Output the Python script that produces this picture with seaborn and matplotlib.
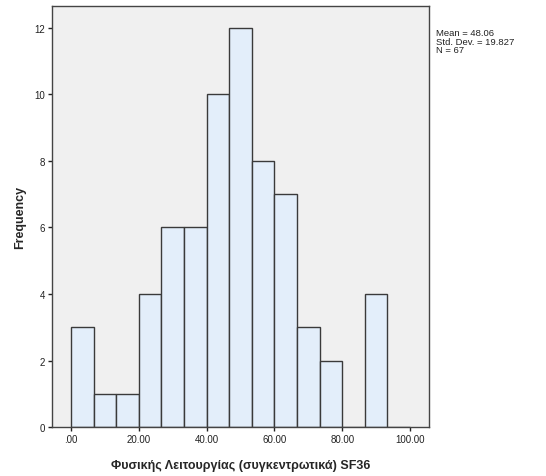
import numpy as np
import pandas as pd
import matplotlib
matplotlib.use('Agg')
import matplotlib.pyplot as plt
import seaborn as sns

# bin edges (width 100/15) and counts
bin_edges = [i * 100 / 15 for i in range(16)]
counts = [3, 1, 1, 4, 6, 6, 10, 12, 8, 7, 3, 2, 0, 4, 0]
x_ticks = [0, 20, 40, 60, 80, 100]
x_labels = ['.00', '20.00', '40.00', '60.00', '80.00', '100.00']
y_ticks = [0, 2, 4, 6, 8, 10, 12]
stats_text = 'Mean = 48.06\nStd. Dev. = 19.827\nN = 67'


def main():
    sns.set_theme(style='white')
    plt.rcParams['font.family'] = ['Liberation Sans', 'DejaVu Sans']

    centers = [(bin_edges[i] + bin_edges[i + 1]) / 2 for i in range(len(counts))]
    df = pd.DataFrame({'value': centers, 'count': counts})

    fig = plt.figure(figsize=(5.46, 4.77), dpi=100)
    ax = fig.add_axes([0.0952, 0.1027, 0.6905, 0.8826])
    ax.set_facecolor('#f0f0f0')

    sns.histplot(data=df, x='value', weights='count', bins=bin_edges, ax=ax,
                 color='#e3eefa', edgecolor='#3a3a3a', linewidth=1.0, alpha=1)

    ax.set_xlim(-5.6, 105.6)
    ax.set_ylim(0, 12.66)
    ax.set_xticks(x_ticks)
    ax.set_xticklabels(x_labels)
    ax.set_yticks(y_ticks)
    ax.tick_params(axis='both', labelsize=7, colors='#222222', length=3,
                   width=1, direction='out', left=True, bottom=True, pad=2)
    for s in ax.spines.values():
        s.set_color('#444444')
        s.set_linewidth(1)

    ax.set_xlabel('Φυσικής Λειτουργίας (συγκεντρωτικά) SF36', fontsize=9,
                  fontweight='bold', labelpad=11)
    ax.set_ylabel('Frequency', fontsize=9, fontweight='bold', labelpad=6)

    fig.text(436 / 546, 1 - 29 / 477, stats_text, fontsize=6.8, va='top',
             ha='left', linespacing=0.95, color='#222222')

    fig.savefig('out.png', dpi=100, facecolor='white')


if __name__ == '__main__':
    main()
